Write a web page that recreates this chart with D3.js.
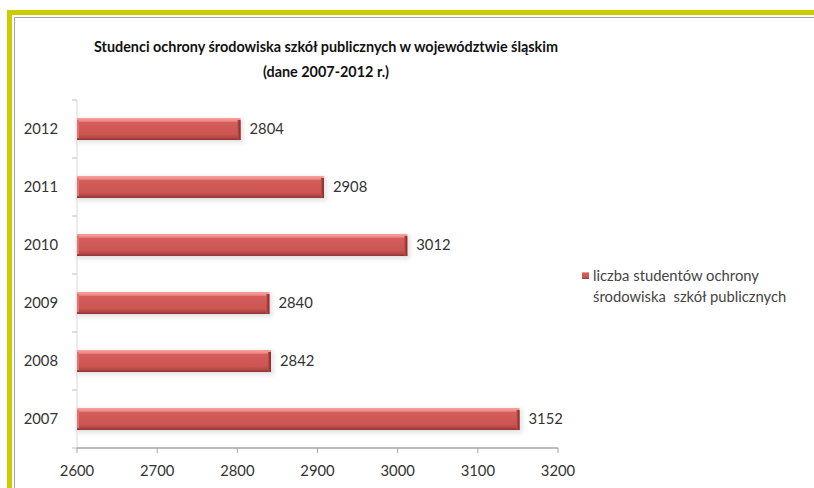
<!DOCTYPE html>
<html>
<head>
<meta charset="utf-8">
<script src="https://cdn.jsdelivr.net/npm/d3@7"></script>
<style>
  html, body { margin: 0; padding: 0; background: #fff; }
  svg { display: block; }
  text { font-family: Lato, "Open Sans", sans-serif; }
</style>
</head>
<body>
<svg id="chart" width="814" height="488"></svg>
<script>
// Liczba studentów ochrony środowiska szkół publicznych, woj. śląskie
const years = ["2007", "2008", "2009", "2010", "2011", "2012"];
const students = [3152, 2842, 2840, 3012, 2908, 2804];
const xTicks = [2600, 2700, 2800, 2900, 3000, 3100, 3200];
const titleLines = [
  "Studenci ochrony środowiska szkół publicznych w województwie śląskim",
  "(dane 2007-2012 r.)"
];
const legendLines = ["liczba studentów ochrony", "środowiska  szkół publicznych"];

const svg = d3.select("#chart");
const W = 814, H = 488;

// frame: yellow band with thin grey line inside
svg.append("rect").attr("x", 7).attr("y", 10).attr("width", W).attr("height", H)
  .attr("fill", "none").attr("stroke", "#cccc00").attr("stroke-width", 5)
  .attr("transform", "translate(2.5,2.5)");
svg.append("path")
  .attr("d", `M14.5,${H} V17.5 H${W}`)
  .attr("fill", "none").attr("stroke", "#a6a6a6").attr("stroke-width", 1);

// title
svg.selectAll("text.title").data(titleLines).join("text")
  .attr("class", "title")
  .attr("x", 326).attr("y", (d, i) => 52 + i * 25)
  .attr("text-anchor", "middle")
  .attr("font-size", 14.4).attr("font-weight", "bold").attr("fill", "#111")
  .text(d => d);

const margin = { left: 77, right: 558, top: 100, bottom: 448 };
const x = d3.scaleLinear().domain([2600, 3200]).range([margin.left, margin.right]);
const y = d3.scaleBand().domain(years.slice().reverse()).range([margin.top, margin.bottom])
  .paddingInner(0.62).paddingOuter(0.31);

const data = years.map((yr, i) => ({ year: yr, value: students[i] }));

// gradients for bevelled bars
const defs = svg.append("defs");
const g1 = defs.append("linearGradient").attr("id", "barFill")
  .attr("x1", 0).attr("y1", 0).attr("x2", 0).attr("y2", 1);
[[0, "#f7a19d"], [0.14, "#f08a86"], [0.2, "#d45e5b"], [0.75, "#cc5552"], [0.88, "#b44845"], [1, "#8e3431"]]
  .forEach(([o, c]) => g1.append("stop").attr("offset", o).attr("stop-color", c));
const g2 = defs.append("linearGradient").attr("id", "barEnd")
  .attr("x1", 0).attr("y1", 0).attr("x2", 1).attr("y2", 0);
[[0, "#c04e4b"], [1, "#7e2b28"]]
  .forEach(([o, c]) => g2.append("stop").attr("offset", o).attr("stop-color", c));
const blur = defs.append("filter").attr("id", "shadow")
  .attr("x", "-10%").attr("y", "-50%").attr("width", "120%").attr("height", "200%");
blur.append("feGaussianBlur").attr("stdDeviation", 2);

// y axis
const yAxis = svg.append("g").attr("transform", `translate(${margin.left},0)`);
yAxis.append("line").attr("x1", 0).attr("x2", 0).attr("y1", margin.top).attr("y2", margin.bottom)
  .attr("stroke", "#d9d9d9");
const step = y.step();
const bounds = d3.range(years.length + 1).map(i => margin.top + i * step);
yAxis.selectAll("line.tick").data(bounds).join("line").attr("class", "tick")
  .attr("x1", -5).attr("x2", 0).attr("y1", d => d).attr("y2", d => d)
  .attr("stroke", "#bfbfbf");
yAxis.selectAll("text").data(years).join("text")
  .attr("x", -19).attr("y", d => y(d) + y.bandwidth() / 2)
  .attr("dy", "0.35em").attr("text-anchor", "end")
  .attr("font-size", 14.8).attr("fill", "#333").text(d => d);

// bars
const bars = svg.append("g").selectAll("g").data(data).join("g");
bars.append("rect")
  .attr("x", x(2600) - 1).attr("y", d => y(d.year) + 1)
  .attr("width", d => x(d.value) - x(2600) + 4).attr("height", y.bandwidth() + 2)
  .attr("fill", "#d9d9d9").attr("opacity", 0.7).attr("filter", "url(#shadow)");
bars.append("rect")
  .attr("x", x(2600)).attr("y", d => y(d.year))
  .attr("width", d => x(d.value) - x(2600)).attr("height", y.bandwidth())
  .attr("fill", "url(#barFill)");
bars.append("rect")
  .attr("x", d => x(d.value) - 3).attr("y", d => y(d.year) + 2)
  .attr("width", 3).attr("height", y.bandwidth() - 2)
  .attr("fill", "url(#barEnd)");
bars.append("rect")
  .attr("x", x(2600)).attr("y", d => y(d.year) + 2)
  .attr("width", 2).attr("height", y.bandwidth() - 4)
  .attr("fill", "#e4726e");
bars.append("text")
  .attr("x", d => x(d.value) + 9).attr("y", d => y(d.year) + y.bandwidth() / 2)
  .attr("dy", "0.35em").attr("font-size", 14.8).attr("fill", "#333")
  .text(d => d.value);

// x axis
const xAxis = svg.append("g").attr("transform", `translate(0,${margin.bottom})`);
xAxis.append("line").attr("x1", margin.left).attr("x2", margin.right)
  .attr("stroke", "#a6a6a6").attr("stroke-width", 1.5);
xAxis.selectAll("line.tick").data(xTicks).join("line").attr("class", "tick")
  .attr("x1", d => x(d)).attr("x2", d => x(d)).attr("y1", 0).attr("y2", 5)
  .attr("stroke", "#a6a6a6");
xAxis.selectAll("text").data(xTicks).join("text")
  .attr("x", d => x(d)).attr("y", 23).attr("dy", "0.35em")
  .attr("text-anchor", "middle").attr("font-size", 14.8).attr("fill", "#333")
  .text(d => d);

// legend
const lg = svg.append("g").attr("transform", "translate(582,272)");
lg.append("rect").attr("width", 7).attr("height", 7).attr("fill", "url(#barFill)");
lg.selectAll("text").data(legendLines).join("text")
  .attr("x", 11).attr("y", (d, i) => 4 + i * 21).attr("dy", "0.35em")
  .attr("font-size", 14.8).attr("fill", "#444").attr("xml:space", "preserve")
  .style("white-space", "pre")
  .text(d => d);
</script>
</body>
</html>
